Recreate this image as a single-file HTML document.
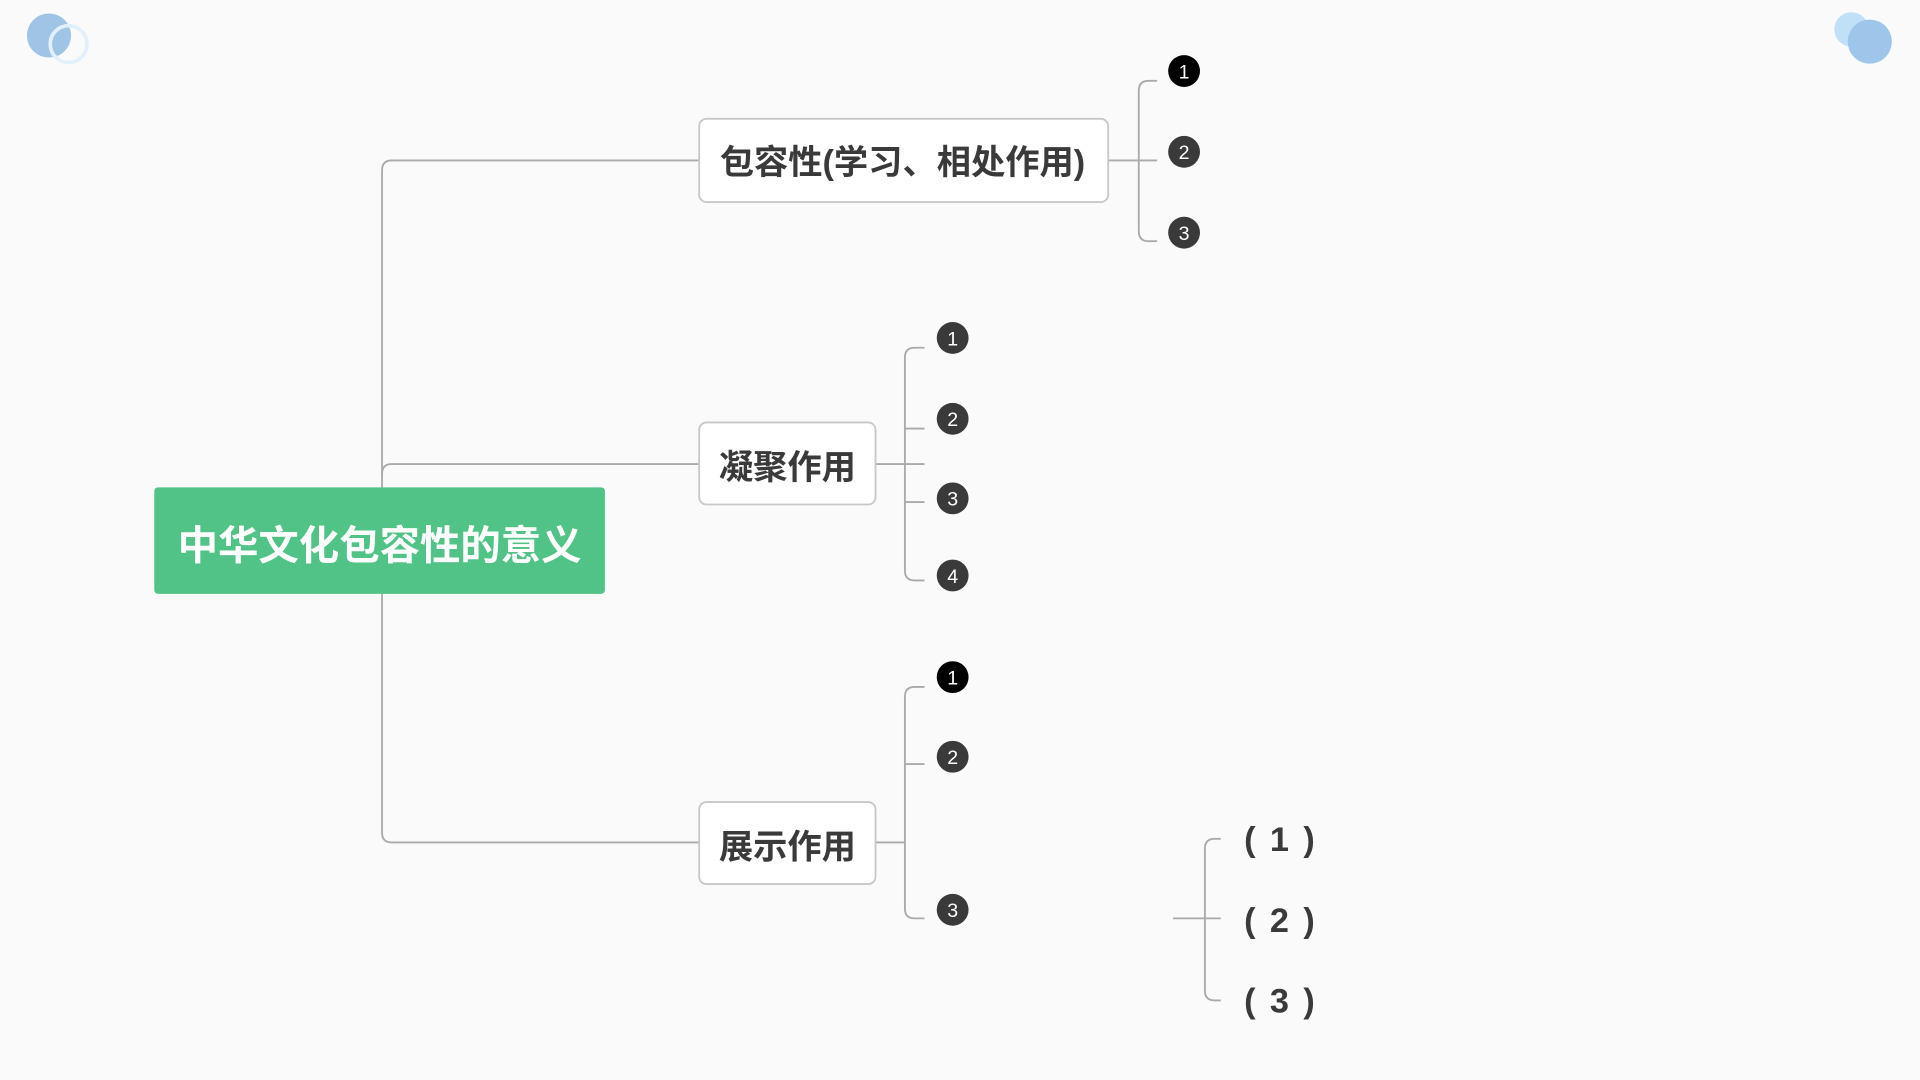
<!DOCTYPE html>
<html><head><meta charset="utf-8"><style>
html,body{margin:0;padding:0;background:#fafafa;}
svg{display:block}
text{font-family:"Liberation Sans","Noto Sans CJK SC",sans-serif;}
</style></head><body>
<svg width="1920" height="1080" viewBox="0 0 1568 882" xmlns="http://www.w3.org/2000/svg">
<rect width="1568" height="882" fill="#fafafa"/>
<circle cx="40" cy="29" r="18" fill="#9fc4e6"/>
<circle cx="56" cy="36" r="15" fill="none" stroke="#e2f0fb" stroke-width="3"/>
<circle cx="1512" cy="24" r="14" fill="#bfe0f7"/>
<circle cx="1527" cy="34" r="18" fill="#9ec6ea"/>
<g fill="none" stroke="#aaa" stroke-width="1.5">
<path d="M571 131 H320 Q312 131 312 139 V680 Q312 688 320 688 H571"/>
<path d="M312 387 Q312 379 320 379 H571"/>
<path d="M905 131 H945 M945 66 H938 Q930 66 930 74 V189 Q930 197 938 197 H945"/>
<path d="M715 379 H755 M755 284 H747 Q739 284 739 292 V466 Q739 474 747 474 H755 M739 350 H755 M739 410 H755"/>
<path d="M715 688 H739 M755 561 H747 Q739 561 739 569 V742 Q739 750 747 750 H755 M739 624 H755"/>
<path d="M958 750 H997 M997 685 H992 Q984 685 984 693 V809 Q984 817 992 817 H997"/>
</g>
<rect x="126" y="398" width="368" height="87" rx="3" fill="#52c386"/>
<text x="310" y="457" font-size="33" font-weight="bold" fill="#fff" text-anchor="middle">中华文化包容性的意义</text>
<g fill="#fff" stroke="#c8c8c8" stroke-width="1.5">
<rect x="571" y="97" width="334" height="68" rx="6"/>
<rect x="571" y="345" width="144" height="67" rx="6"/>
<rect x="571" y="655" width="144" height="67" rx="6"/>
</g>
<g font-size="28" font-weight="bold" fill="#3a3a3a" text-anchor="middle">
<text x="737" y="142">包容性(学习、相处作用)</text>
<text x="643" y="391">凝聚作用</text>
<text x="643" y="701">展示作用</text>
</g>
<g font-size="16" fill="#fff" text-anchor="middle">
<circle cx="967" cy="58" r="13" fill="#000"/><text x="967" y="64">1</text>
<circle cx="967" cy="124" r="13" fill="#3a3a3a"/><text x="967" y="130">2</text>
<circle cx="967" cy="190" r="13" fill="#3a3a3a"/><text x="967" y="196">3</text>
<circle cx="778" cy="276" r="13" fill="#3a3a3a"/><text x="778" y="282">1</text>
<circle cx="778" cy="342" r="13" fill="#3a3a3a"/><text x="778" y="348">2</text>
<circle cx="778" cy="407" r="13" fill="#3a3a3a"/><text x="778" y="413">3</text>
<circle cx="778" cy="470" r="13" fill="#3a3a3a"/><text x="778" y="476">4</text>
<circle cx="778" cy="553" r="13" fill="#000"/><text x="778" y="559">1</text>
<circle cx="778" cy="618" r="13" fill="#3a3a3a"/><text x="778" y="624">2</text>
<circle cx="778" cy="743" r="13" fill="#3a3a3a"/><text x="778" y="749">3</text>
</g>
<g font-size="28" font-weight="bold" fill="#3a3a3a" letter-spacing="2">
<text x="1016" y="695">( 1 )</text>
<text x="1016" y="761">( 2 )</text>
<text x="1016" y="827">( 3 )</text>
</g>
</svg>
</body></html>
